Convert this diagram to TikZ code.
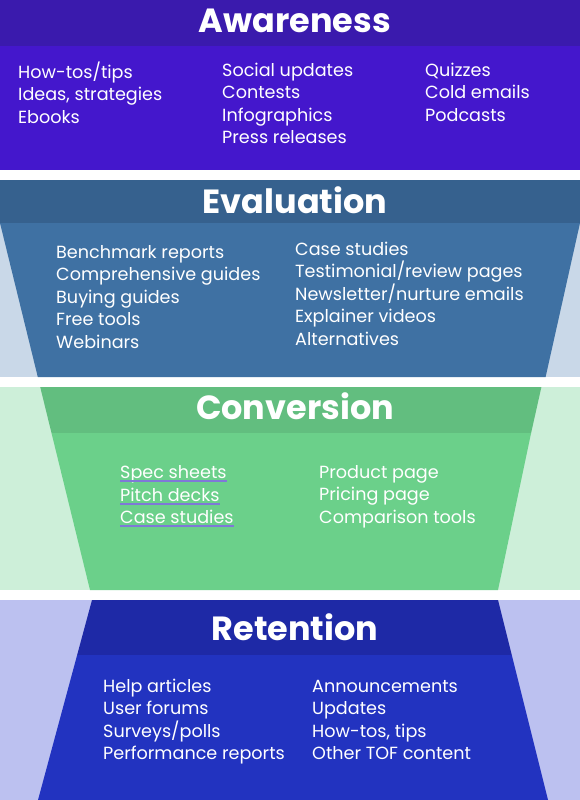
\documentclass[tikz,border=0pt]{standalone}
\usepackage{fontspec}
\setmainfont{Poppins}
\definecolor{awHead}{HTML}{3A1AAD}
\definecolor{awBody}{HTML}{4417CC}
\definecolor{evHead}{HTML}{36618E}
\definecolor{evBody}{HTML}{3F71A3}
\definecolor{evSide}{HTML}{C9D8E8}
\definecolor{cvHead}{HTML}{62BE7F}
\definecolor{cvBody}{HTML}{6BD08A}
\definecolor{cvSide}{HTML}{CDEFD9}
\definecolor{reHead}{HTML}{1E29A6}
\definecolor{reBody}{HTML}{2233C0}
\definecolor{reSide}{HTML}{BCC1F0}
\definecolor{ulin}{HTML}{7F78D8}
\tikzset{
  ttl/.style={text=white, font=\fontsize{33.5}{36}\selectfont\bfseries, anchor=base, inner sep=0pt},
  itm/.style={text=white, font=\fontsize{17.6}{20}\selectfont, anchor=base west, inner sep=0pt},
  uline/.style={fill=ulin}
}
\begin{document}
\begin{tikzpicture}[x=1pt,y=-1pt]
\useasboundingbox (0,0) rectangle (580,800);
\fill[white] (0,0) rectangle (580,800);
% Awareness
\fill[awBody] (0,0) rectangle (580,170);
\fill[awHead] (0,0) rectangle (580,46);
% Evaluation
\fill[evSide] (0,180) rectangle (580,377);
\fill[evHead] (0,180) rectangle (580,223);
\fill[evBody] (0,223) -- (580,223) -- (545.6,377) -- (37.8,377) -- cycle;
% Conversion
\fill[cvSide] (0,387) rectangle (580,590);
\fill[cvHead] (40.2,387) -- (541.4,387) -- (531.1,433) -- (51.5,433) -- cycle;
\fill[cvBody] (51.5,433) -- (531.1,433) -- (498,590) -- (90,590) -- cycle;
% Retention
\fill[reSide] (0,600) rectangle (580,800);
\fill[reHead] (92,600) -- (498,600) -- (511.75,655) -- (77.15,655) -- cycle;
\fill[reBody] (77.15,655) -- (511.75,655) -- (548,800) -- (38,800) -- cycle;

% Titles
\node[ttl] (tAw) at (295,33) {Awareness};
\node[ttl] (tEv) at (295,213) {Evaluation};
\node[ttl] (tCv) at (295,419) {Conversion};
\node[ttl] (tRe) at (295,640) {Retention};

% Awareness items
\foreach \t [count=\i] in {How-tos/tips, {Ideas, strategies}, Ebooks}
  \node[itm] (aA\i) at (18,{78+22.5*(\i-1)}) {\t};
\foreach \t [count=\i] in {Social updates, Contests, Infographics, Press releases}
  \node[itm] (aB\i) at (222,{76+22.5*(\i-1)}) {\t};
\foreach \t [count=\i] in {Quizzes, Cold emails, Podcasts}
  \node[itm] (aC\i) at (425,{76+22.5*(\i-1)}) {\t};

% Evaluation items
\foreach \t [count=\i] in {Benchmark reports, Comprehensive guides, Buying guides, Free tools, Webinars}
  \node[itm] (eA\i) at (56,{258+22.5*(\i-1)}) {\t};
\foreach \t [count=\i] in {Case studies, Testimonial/review pages, Newsletter/nurture emails, Explainer videos, Alternatives}
  \node[itm] (eB\i) at (295,{255+22.5*(\i-1)}) {\t};

% Conversion items
\node[itm] (cA1) at (120,478) {Spec sheets};
\node[itm] (cA2) at (120,501) {Pitch decks};
\node[itm] (cA3) at (120,523) {Case studies};
\fill[uline] ([yshift=-2.2pt]cA1.base west) rectangle ([yshift=-3.6pt]cA1.base east);
\fill[uline] ([yshift=-2.2pt]cA2.base west) rectangle ([yshift=-3.6pt]cA2.base east);
\fill[uline] ([yshift=-2.2pt]cA3.base west) rectangle ([yshift=-3.6pt]cA3.base east);
\foreach \t [count=\i] in {Product page, Pricing page, Comparison tools}
  \node[itm] (cB\i) at (319,{478+22.5*(\i-1)}) {\t};

% Retention items
\foreach \t [count=\i] in {Help articles, User forums, Surveys/polls, Performance reports}
  \node[itm] (rA\i) at (103,{692+22.5*(\i-1)}) {\t};
\foreach \t [count=\i] in {Announcements, Updates, {How-tos, tips}, Other TOF content}
  \node[itm] (rB\i) at (312,{692+22.5*(\i-1)}) {\t};
\end{tikzpicture}
\end{document}
